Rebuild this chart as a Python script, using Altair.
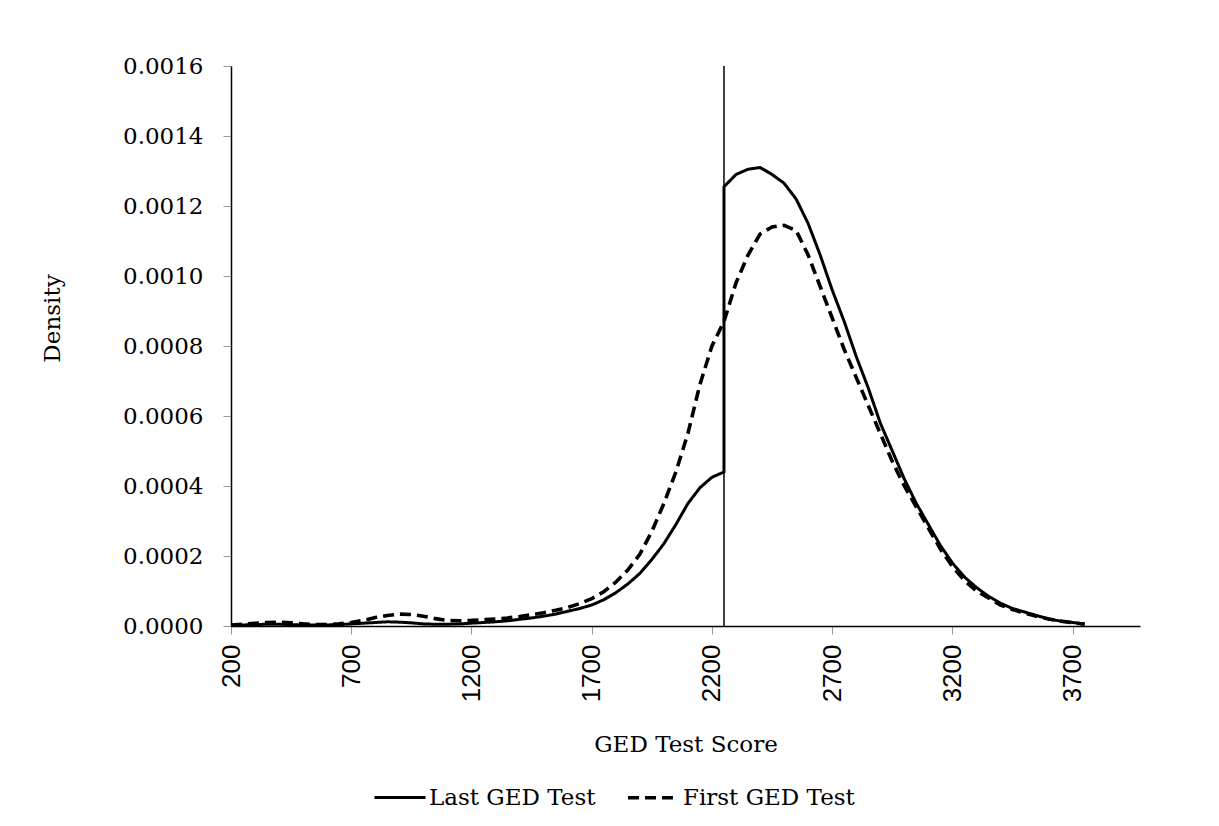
import altair as alt
import pandas as pd

# ---- data ----
scores = list(range(200, 3751, 50))

last_density = [
    0.000002, 0.000003, 0.000004, 0.000005, 0.000005, 0.000004, 0.000003, 0.000003,
    0.000003, 0.000004, 0.000006, 0.000008, 0.000010, 0.000012, 0.000011, 0.000009,
    0.000006, 0.000005, 0.000005, 0.000006, 0.000008, 0.000010, 0.000012, 0.000015,
    0.000019, 0.000023, 0.000028, 0.000034, 0.000042, 0.000050, 0.000060, 0.000075,
    0.000095, 0.000120, 0.000150, 0.000190, 0.000235, 0.000290, 0.000350, 0.000395,
    0.000425, 0.000440,
    0.001290, 0.001305, 0.001310, 0.001290, 0.001265, 0.001220, 0.001150, 0.001060,
    0.000960, 0.000870, 0.000770, 0.000680, 0.000580, 0.000500, 0.000420, 0.000350,
    0.000290, 0.000230, 0.000180, 0.000140, 0.000110, 0.000085, 0.000065, 0.000050,
    0.000040, 0.000030, 0.000020, 0.000014, 0.000010, 0.000006,
]
# value just right of the cutoff jump (at the cutoff score)
cutoff = 2250
last_jump_value = 0.001255

first_density = [
    0.000003, 0.000005, 0.000008, 0.000010, 0.000011, 0.000009, 0.000006, 0.000004,
    0.000004, 0.000006, 0.000010, 0.000016, 0.000024, 0.000030, 0.000034, 0.000033,
    0.000028, 0.000021, 0.000016, 0.000015, 0.000016, 0.000018, 0.000020, 0.000023,
    0.000027, 0.000032, 0.000038, 0.000045, 0.000053, 0.000064, 0.000078, 0.000098,
    0.000125, 0.000160, 0.000205, 0.000270, 0.000350, 0.000440, 0.000550, 0.000690,
    0.000800, 0.000870,
    0.000980, 0.001060, 0.001120, 0.001140, 0.001145, 0.001130, 0.001060, 0.000970,
    0.000880, 0.000790, 0.000710, 0.000630, 0.000550, 0.000470, 0.000400, 0.000340,
    0.000280, 0.000220, 0.000170, 0.000130, 0.000100, 0.000080, 0.000060, 0.000047,
    0.000037, 0.000028, 0.000020, 0.000014, 0.000009, 0.000005,
]

x_ticks = [200, 700, 1200, 1700, 2200, 2700, 3200, 3700]
y_ticks = [0, 0.0002, 0.0004, 0.0006, 0.0008, 0.0010, 0.0012, 0.0014, 0.0016]
series_names = ["Last GED Test", "First GED Test"]

# ---- build table ----
rows = []
idx = 0
for s, d in zip(scores, last_density):
    rows.append({"score": s, "density": d, "series": series_names[0], "idx": idx})
    idx += 1
    if s == cutoff:
        rows.append({"score": s, "density": last_jump_value, "series": series_names[0], "idx": idx})
        idx += 1
for s, d in zip(scores, first_density):
    rows.append({"score": s, "density": d, "series": series_names[1], "idx": idx})
    idx += 1
df = pd.DataFrame(rows)

SERIF = "DejaVu Serif"
SANS = "Liberation Sans"

lines = alt.Chart(df).mark_line(color="black").encode(
    x=alt.X("score:Q",
            scale=alt.Scale(domain=[200, 3980], nice=False, zero=False),
            axis=alt.Axis(values=x_ticks, format="d", title="GED Test Score", labelAngle=270,
                          labelAlign="right", labelBaseline="middle", labelPadding=10,
                          labelFont=SANS, labelFontSize=26,
                          titleY=118, titleBaseline="middle", titleFontWeight="normal")),
    y=alt.Y("density:Q",
            scale=alt.Scale(domain=[0, 0.0016], nice=False),
            axis=alt.Axis(values=y_ticks, format=".4f", title="Density",
                          titleAngle=270, titleX=-179, titleY=252, titleAlign="center",
                          titleBaseline="middle", titleFontWeight="normal", labelPadding=20)),
    strokeDash=alt.StrokeDash("series:N",
                              scale=alt.Scale(domain=series_names, range=[[1, 0], [11, 6]]),
                              legend=alt.Legend(title=None, orient="none", direction="horizontal",
                                                legendX=142, legendY=704,
                                                symbolType="stroke", symbolSize=2600,
                                                symbolStrokeWidth=3.5, symbolStrokeColor="black",
                                                labelFontSize=23, labelFont=SERIF, labelLimit=500,
                                                columnPadding=24, labelOffset=2)),
    strokeWidth=alt.StrokeWidth("series:N",
                                scale=alt.Scale(domain=series_names, range=[3, 3.6]),
                                legend=None),
    detail="series:N",
    order="idx:Q",
)

cut_df = pd.DataFrame({"score": [cutoff]})
rule = alt.Chart(cut_df).mark_rule(color="black", strokeWidth=1.5).encode(x="score:Q")

chart = alt.layer(rule, lines).properties(
    width=909, height=560,
    padding={"left": 223, "top": 58, "right": 70, "bottom": 196},
    autosize=alt.AutoSizeParams(type="none"),
).configure_view(stroke=None).configure_axis(
    grid=False, domainColor="black", domainWidth=1.5, tickColor="#999999", tickSize=8,
    labelFont=SERIF, titleFont=SERIF, labelFontSize=23, titleFontSize=23,
    labelColor="black", titleColor="black",
)

chart.save("out.html", embed_options={"renderer": "svg", "actions": False})
